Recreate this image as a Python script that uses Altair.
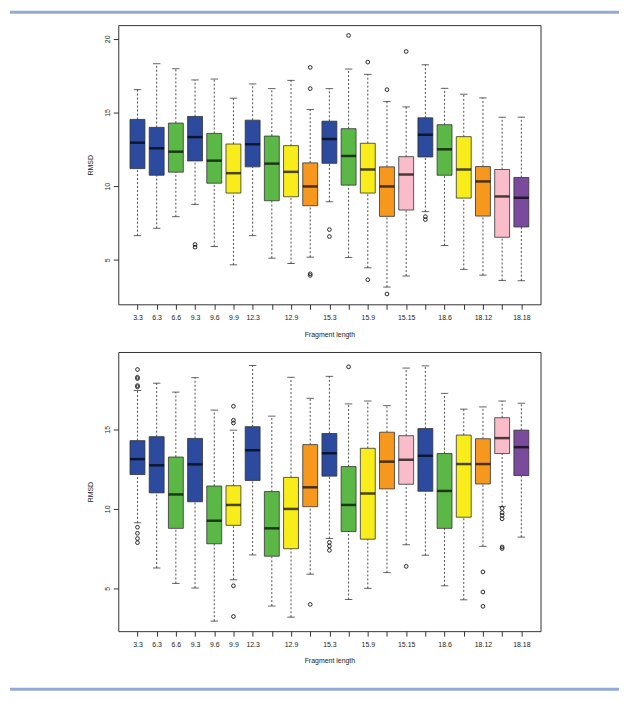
import altair as alt
import pandas as pd

categories = ["3.3", "6.3", "6.6", "9.3", "9.6", "9.9", "12.3", "12.6", "12.9", "12.12",
              "15.3", "15.6", "15.9", "15.12", "15.15", "18.3", "18.6", "18.9", "18.12",
              "18.15", "18.18"]
shown_labels = ["3.3", "6.3", "6.6", "9.3", "9.6", "9.9", "12.3", "12.9", "15.3", "15.9",
                "15.15", "18.6", "18.12", "18.18"]
group_of = ["3", "3", "6", "3", "6", "9", "3", "6", "9", "12",
            "3", "6", "9", "12", "15", "3", "6", "9", "12", "15", "18"]
group_names = ["3", "6", "9", "12", "15", "18"]
group_colors = ["#2c4a9e", "#5bb846", "#f8ec1a", "#f7981e", "#f9bccb", "#7a4b9c"]

# Panel 1 (top)
p1_low = [6.64, 7.14, 7.93, 8.76, 5.90, 4.66, 6.64, 5.11, 4.75, 5.18, 8.94,
          5.16, 4.46, 3.15, 3.90, 8.27, 5.97, 4.35, 3.96, 3.60, 3.58]
p1_q1 = [11.19, 10.74, 10.95, 11.71, 10.20, 9.53, 11.31, 9.01, 9.28, 8.67, 11.55,
         10.07, 9.53, 7.95, 8.38, 11.98, 10.74, 9.19, 7.97, 6.53, 7.23]
p1_med = [12.95, 12.57, 12.34, 13.33, 11.73, 10.88, 12.84, 11.53, 10.97, 9.98, 13.20,
          12.05, 11.13, 9.98, 10.79, 13.49, 12.50, 11.13, 10.32, 9.30, 9.21]
p1_q3 = [14.53, 13.99, 14.28, 14.73, 13.58, 12.86, 14.48, 13.40, 12.75, 11.58, 14.41,
         13.90, 12.91, 11.31, 12.00, 14.64, 14.17, 13.36, 11.33, 11.13, 10.59]
p1_high = [16.55, 18.31, 17.97, 17.21, 17.27, 15.97, 16.94, 16.62, 17.18, 15.20, 16.62,
           17.95, 17.59, 15.74, 15.38, 18.24, 16.64, 16.24, 15.99, 14.68, 14.68]
p1_out_cat = ["9.3", "9.3", "12.12", "12.12", "12.12", "12.12", "15.3", "15.3",
              "15.6", "15.9", "15.9", "15.12", "15.12", "15.15", "18.3", "18.3"]
p1_out_val = [6.04, 5.86, 18.06, 16.62, 4.05, 3.94, 7.05, 6.58,
              20.23, 18.42, 3.65, 16.55, 2.68, 19.14, 7.93, 7.73]

# Panel 2 (bottom)
p2_low = [9.12, 6.28, 5.31, 5.02, 2.94, 5.54, 7.10, 3.89, 3.19, 5.89, 8.13,
          4.30, 5.00, 5.99, 7.74, 7.08, 5.16, 4.28, 7.64, 10.13, 8.22]
p2_q1 = [12.15, 11.00, 8.77, 10.44, 7.80, 8.96, 11.78, 7.02, 7.49, 10.13, 12.05,
         8.57, 8.09, 11.25, 11.54, 11.10, 8.77, 9.47, 11.56, 13.47, 12.09]
p2_med = [13.12, 12.73, 10.90, 12.79, 9.25, 10.24, 13.68, 8.77, 9.99, 11.35, 13.49,
          10.24, 10.96, 12.96, 13.08, 13.33, 11.12, 12.81, 12.81, 14.44, 13.87]
p2_q3 = [14.28, 14.53, 13.25, 14.42, 11.43, 11.45, 15.16, 11.08, 11.97, 14.03, 14.73,
         12.65, 13.80, 14.81, 14.59, 15.04, 13.47, 14.63, 14.40, 15.72, 14.94]
p2_high = [17.43, 17.89, 17.33, 18.24, 16.20, 14.94, 19.00, 15.82, 18.26, 16.94, 18.32,
           16.59, 16.77, 16.48, 18.84, 18.98, 17.25, 16.26, 16.40, 16.77, 16.63]
p2_out_cat = ["3.3"] * 9 + ["9.9"] * 5 + ["12.12"] + ["15.3"] * 3 + ["15.6", "15.15"] + \
             ["18.12"] * 3 + ["18.15"] * 6
p2_out_val = [18.75, 18.26, 18.18, 17.74, 17.66, 8.84, 8.46, 8.13, 7.87,
              16.44, 15.56, 15.39, 5.16, 3.23,
              3.99,
              7.89, 7.66, 7.39,
              18.92, 6.38,
              6.03, 4.77, 3.87,
              10.03, 9.76, 9.58, 9.37, 7.60, 7.50]

FONT = "Liberation Sans"
BAR_COLOR = "#94aad6"
TEXT_COLOR = "#1a1a1a"

hidden = [c for c in categories if c not in shown_labels]
label_expr = "indexof([" + ",".join("'%s'" % h for h in hidden) + "], datum.label) >= 0 ? '' : datum.label"

x_enc = alt.X("cat:N", sort=categories,
              scale=alt.Scale(type="point", domain=categories, padding=1.34),
              axis=alt.Axis(title="Fragment length", labelExpr=label_expr, labelOverlap=False,
                            labelAngle=0, tickSize=5, labelPadding=4, titlePadding=10,
                            domain=False, grid=False, labelFontSize=7, titleFontSize=7,
                            labelFont=FONT, titleFont=FONT, titleFontWeight="normal",
                            labelColor=TEXT_COLOR, titleColor=TEXT_COLOR, tickColor="#333"))


def panel(low, q1, med, q3, high, out_cat, out_val, ydomain, yvalues, bar_y):
    df = pd.DataFrame({"cat": categories, "grp": group_of, "low": low, "q1": q1,
                       "med": med, "q3": q3, "high": high})
    odf = pd.DataFrame({"cat": out_cat, "val": out_val})
    yscale = alt.Scale(domain=ydomain, nice=False, zero=False)
    yaxis = alt.Axis(title="RMSD", values=yvalues, labelAngle=270, labelAlign="center",
                     labelBaseline="bottom", tickSize=5, labelPadding=3, titlePadding=10,
                     domain=False, grid=False, labelFontSize=7, titleFontSize=7,
                     labelFont=FONT, titleFont=FONT, titleFontWeight="normal",
                     labelColor=TEXT_COLOR, titleColor=TEXT_COLOR, tickColor="#333")
    base = alt.Chart(df)
    whisk_up = base.mark_rule(strokeDash=[2, 2], strokeWidth=0.8, color="#222").encode(
        x=x_enc, y=alt.Y("q3:Q", scale=yscale, axis=yaxis), y2="high:Q")
    whisk_lo = base.mark_rule(strokeDash=[2, 2], strokeWidth=0.8, color="#222").encode(
        x=x_enc, y=alt.Y("low:Q", scale=yscale, axis=yaxis), y2="q1:Q")
    cap_hi = base.mark_tick(size=7.5, thickness=1, color="#222").encode(
        x=x_enc, y=alt.Y("high:Q", scale=yscale, axis=yaxis))
    cap_lo = base.mark_tick(size=7.5, thickness=1, color="#222").encode(
        x=x_enc, y=alt.Y("low:Q", scale=yscale, axis=yaxis))
    box = base.mark_bar(size=15, stroke="#333", strokeWidth=0.8, opacity=1).encode(
        x=x_enc, y=alt.Y("q1:Q", scale=yscale, axis=yaxis), y2="q3:Q",
        color=alt.Color("grp:N", scale=alt.Scale(domain=group_names, range=group_colors),
                        legend=None))
    median = base.mark_tick(size=15, thickness=2.5, color="#000").encode(
        x=x_enc, y=alt.Y("med:Q", scale=yscale, axis=yaxis))
    outl = alt.Chart(odf).mark_point(shape="circle", filled=False, size=14, strokeWidth=0.9,
                                     color="#111", opacity=1).encode(
        x=x_enc, y=alt.Y("val:Q", scale=yscale, axis=yaxis))
    deco = alt.Chart(alt.Data(values=[{"d": 0}])).mark_rule(
        color=BAR_COLOR, strokeWidth=3).encode(
        x=alt.value(-109), x2=alt.value(504), y=alt.value(bar_y))
    return alt.layer(whisk_up, whisk_lo, cap_hi, cap_lo, box, median, outl, deco).properties(
        width=425, height=281)


top = panel(p1_low, p1_q1, p1_med, p1_q3, p1_high, p1_out_cat, p1_out_val,
            [1.98, 20.93], [5, 10, 15, 20], -13)
bottom = panel(p2_low, p2_q1, p2_med, p2_q3, p2_high, p2_out_cat, p2_out_val,
               [2.31, 19.85], [5, 10, 15], 339.5)

chart = alt.vconcat(top, bottom, spacing=13).properties(padding=0).configure(
    background="white").configure_view(stroke="#333333", strokeWidth=1)

chart.save("out.html", embed_options={"renderer": "svg", "actions": False})
